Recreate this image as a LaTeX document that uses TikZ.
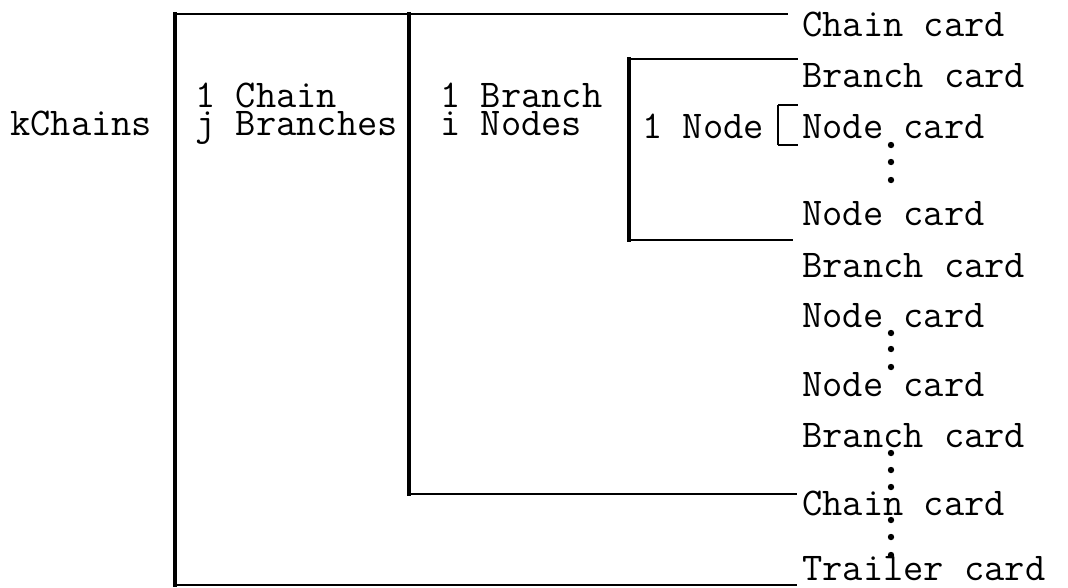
\documentclass[tikz,border=0pt]{standalone}
\usepackage{tikz}

\tikzset{
  txt/.style={anchor=base west, inner sep=0pt, font=\ttfamily\fontsize{29.5}{21}\selectfont},
  two/.style={txt, align=left},
  bar/.style={line width=2.6pt, line cap=rect},
  rule/.style={line width=1.5pt}
}

\begin{document}
\begin{tikzpicture}[x=0.75pt,y=0.75pt,yscale=-1,xscale=1]
\useasboundingbox (0,0) rectangle (1068,587);

% Text Node
\node [txt] (kch) at (10,135) {kChains};
% Text Node
\node [two] (chj) at (195,135) {1 Chain\\j Branches};
% Text Node
\node [two] (bri) at (440,135) {1 Branch\\i Nodes};
% Text Node
\node [txt] (nd1) at (642,138) {1 Node};

% Cards
\node [txt] (cardA) at (802,36) {Chain card};
\node [txt] (cardB) at (802,87) {Branch card};
\node [txt] (cardC) at (802,138) {Node card};
\node [txt] (cardD) at (802,225) {Node card};
\node [txt] (cardE) at (802,277) {Branch card};
\node [txt] (cardF) at (802,327) {Node card};
\node [txt] (cardG) at (802,396) {Node card};
\node [txt] (cardH) at (802,447) {Branch card};
\node [txt] (cardI) at (802,515) {Chain card};
\node [txt] (cardJ) at (802,580) {Trailer card};

% bracket corners
\coordinate (kTop) at (175,14);
\coordinate (kBot) at (175,585);
\coordinate (jTop) at (409,14);
\coordinate (jBot) at (409,494);
\coordinate (iTop) at (629,59);
\coordinate (iBot) at (629,240);
\coordinate (nTop) at (778,105);
\coordinate (nBot) at (778,145);
\coordinate (eA) at (788,14);
\coordinate (eJ) at (797,585);
\coordinate (eI) at (797,494);
\coordinate (eB) at (798,59);
\coordinate (eE) at (793,240);
\coordinate (nA) at (798,105);
\coordinate (nB) at (798,145);

%Straight Lines
\draw [bar] (kTop) -- (kBot);
\draw [bar] (jTop) -- (jBot);
\draw [bar] (iTop) -- (iBot);
\draw [rule] (nTop) -- (nBot);
%Straight Lines
\draw [rule] (kTop) -- (eA);
\draw [rule] (kBot) -- (eJ);
\draw [rule] (jBot) -- (eI);
\draw [rule] (iTop) -- (eB);
\draw [rule] (iBot) -- (eE);
\draw [rule] (nTop) -- (nA);
\draw [rule] (nBot) -- (nB);

% Dots
\foreach \y in {145,162,180, 333,349,367, 453,470,487, 520,537,555}
  \fill (891,\y) circle [radius=3.2];

\end{tikzpicture}
\end{document}
